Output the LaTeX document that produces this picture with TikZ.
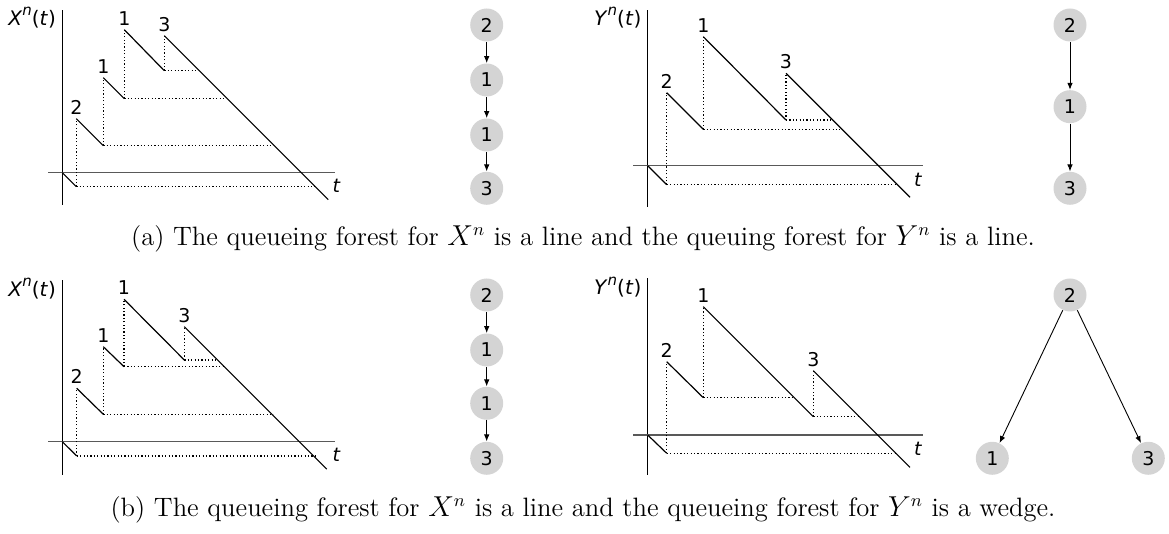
\documentclass[tikz,border=0pt]{standalone}
\usepackage{amsmath,amssymb}
\usepackage{fontspec}
\usepackage{tikz}
\usetikzlibrary{arrows.meta,positioning,calc}
\newfontfamily\plotfont{DejaVu Sans}
\newcommand{\plotlab}[1]{{\plotfont\fontsize{10}{12}\selectfont\textit{#1}\raisebox{0.85ex}{\fontsize{7.5}{8}\selectfont\textit{n}}(\textit{t})}}

\begin{document}
\begin{tikzpicture}[x=0.5pt,y=0.5pt,>=Latex,
 ax/.style={line width=0.6pt},hax/.style={line width=0.7pt,black!65},
 jmp/.style={line width=0.6pt},dot/.style={line width=0.6pt,dash pattern=on 0.6pt off 1.1pt},
 lbl/.style={font=\plotfont\fontsize{9.5}{11}\selectfont,inner sep=1pt,anchor=south},
 circ/.style={circle,fill=black!17,minimum size=16.5pt,inner sep=0pt,font=\plotfont\fontsize{9.5}{11}\selectfont},
 arr/.style={-{Latex[length=3.5pt,width=2.8pt]},line width=0.45pt},
 captext/.style={font=\fontsize{13.3}{16}\selectfont}]
\useasboundingbox (0,0) rectangle (1169,534);

% (a) left: X^n
\begin{scope}[shift={(62.3,361.3)}]
\draw[ax] (0,-32.3) -- (0,162.7);
\draw[hax] (-14.3,0) -- (272.7,0);
\draw[dot] (14,-14) -- (14,54) (14,-14) -- (253,-14);
\draw[dot] (41,27) -- (41,95) (41,27) -- (211,27);
\draw[dot] (62,74) -- (62,143) (62,74) -- (162,74);
\draw[dot] (102,102) -- (102,137) (102,102) -- (136,102);
\draw[jmp] (0,0) -- (14,-14) (14,54) -- (41,27) (41,95) -- (62,74)
 (62,143) -- (102,102) (102,137) -- (266,-27);
\node[lbl] (xa2) at (14,56) {2};
\node[lbl] (xa1) at (41,97) {1};
\node[lbl] (xa1b) at (62,145) {1};
\node[lbl] (xa3) at (102,139) {3};
\node[lbl,anchor=west] (xat) at (268,-13) {\textit{t}};
\node[lbl,anchor=east] (xay) at (-4,155) {\plotlab{X}};
\end{scope}

% (a) left: forest of X^n
\node[circ] (xv2) at (486.7,509) {2};
\node[circ] (xv1) at (486.7,454) {1};
\node[circ] (xv1b) at (486.7,399) {1};
\node[circ] (xv3) at (486.7,345.7) {3};
\draw[arr] (xv2)--(xv1); \draw[arr] (xv1)--(xv1b); \draw[arr] (xv1b)--(xv3);

% (a) right: Y^n
\begin{scope}[shift={(647.7,368.3)}]
\draw[ax] (0,-41) -- (0,156);
\draw[hax] (-14.4,0) -- (275.6,0);
\draw[dot] (19,-19) -- (19,73) (19,-19) -- (249,-19);
\draw[dot] (55.6,36.4) -- (55.6,129) (55.6,36.4) -- (192,36.4);
\draw[dot] (138.3,45.7) -- (138.3,92.4) (138.3,45.7) -- (183,45.7);
\draw[jmp] (0,0) -- (19,-19) (19,73) -- (55.6,36.4) (55.6,129) -- (138.3,45.7)
 (138.3,92.4) -- (262.3,-31.6);
\node[lbl] (ya2) at (19,75) {2};
\node[lbl] (ya1) at (55.6,131) {1};
\node[lbl] (ya3) at (138.3,94.4) {3};
\node[lbl,anchor=west] (yat) at (264,-14) {\textit{t}};
\node[lbl,anchor=east] (yay) at (-4,148) {\plotlab{Y}};
\end{scope}

% (a) right: forest of Y^n
\node[circ] (yv2) at (1070,509) {2};
\node[circ] (yv1) at (1070,427.3) {1};
\node[circ] (yv3) at (1070,345.7) {3};
\draw[arr] (yv2)--(yv1); \draw[arr] (yv1)--(yv3);

\node[captext] (capa) at (583,295) {(a) The queueing forest for $X^n$ is a line and the queuing forest for $Y^n$ is a line.};

% (b) left: X^n
\begin{scope}[shift={(62.3,92.3)}]
\draw[ax] (0,-33) -- (0,162);
\draw[hax] (-14.3,0) -- (272.7,0);
\draw[dot] (14.4,-14.3) -- (14.4,53.4) (14.4,-14.3) -- (253,-14.3);
\draw[dot] (41,27.4) -- (41,95) (41,27.4) -- (211,27.4);
\draw[dot] (61.7,75) -- (61.7,142.4) (61.7,75) -- (161,75);
\draw[dot] (122,81.7) -- (122,115) (122,81.7) -- (154.4,81.7);
\draw[jmp] (0,0) -- (14.4,-14.3) (14.4,53.4) -- (41,27.4) (41,95) -- (61.7,75)
 (61.7,142.4) -- (122,81.7) (122,115) -- (264.4,-27.4);
\node[lbl] (xb2) at (14.4,55.4) {2};
\node[lbl] (xb1) at (41,97) {1};
\node[lbl] (xb1b) at (61.7,144.4) {1};
\node[lbl] (xb3) at (122,117) {3};
\node[lbl,anchor=west] (xbt) at (268,-13) {\textit{t}};
\node[lbl,anchor=east] (xby) at (-4,153) {\plotlab{X}};
\end{scope}

% (b) left: forest of X^n
\node[circ] (xw2) at (486.7,239) {2};
\node[circ] (xw1) at (486.7,184) {1};
\node[circ] (xw1b) at (486.7,130.7) {1};
\node[circ] (xw3) at (486.7,75.7) {3};
\draw[arr] (xw2)--(xw1); \draw[arr] (xw1)--(xw1b); \draw[arr] (xw1b)--(xw3);

% (b) right: Y^n
\begin{scope}[shift={(647.7,99)}]
\draw[ax] (0,-40) -- (0,156.7);
\draw[hax] (-14.4,0) -- (275.6,0);
\draw[dot] (19,-18.3) -- (19,73.3) (19,-18.3) -- (249,-18.3);
\draw[dot] (55.6,37.3) -- (55.6,128.3) (55.6,37.3) -- (146.3,37.3);
\draw[dot] (165.6,18.3) -- (165.6,64.3) (165.6,18.3) -- (210.6,18.3);
\draw[jmp] (0,0) -- (19,-18.3) (19,73.3) -- (55.6,37.3) (55.6,128.3) -- (165.6,18.3)
 (165.6,64.3) -- (262.3,-32.4);
\node[lbl] (yb2) at (19,75.3) {2};
\node[lbl] (yb1) at (55.6,130.3) {1};
\node[lbl] (yb3) at (165.6,66.3) {3};
\node[lbl,anchor=west] (ybt) at (264,-14) {\textit{t}};
\node[lbl,anchor=east] (yby) at (-4,148) {\plotlab{Y}};
\end{scope}

% (b) right: forest of Y^n
\node[circ] (yw2) at (1070,239) {2};
\node[circ] (yw1) at (992.3,75.7) {1};
\node[circ] (yw3) at (1148.3,75.7) {3};
\draw[arr] (yw2)--(yw1); \draw[arr] (yw2)--(yw3);

\node[captext] (capb) at (583,24) {(b) The queueing forest for $X^n$ is a line and the queueing forest for $Y^n$ is a wedge.};
\end{tikzpicture}
\end{document}
